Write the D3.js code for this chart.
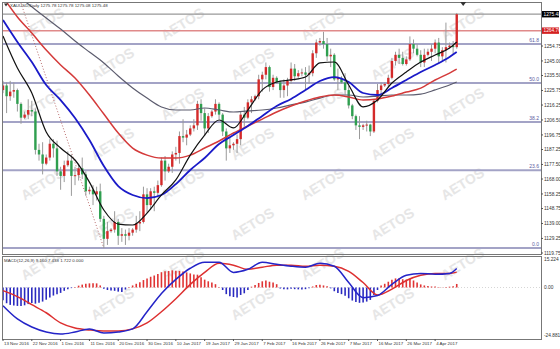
<!DOCTYPE html>
<html>
<head>
<meta charset="utf-8">
<script src="https://cdn.jsdelivr.net/npm/d3@7"></script>
<style>
  body { margin: 0; background: #fff; }
  svg { display: block; font-family: "Liberation Sans", Arial, sans-serif; }
</style>
</head>
<body>
<svg id="chart" width="560" height="349"></svg>
<script>
// XAUUSD daily candles, bar 0 = 13 Nov 2016 ... bar 126 = 11 Apr 2017
var opens = [1226,1229,1222,1225,1226,1217,1208,1210,1213,1212,1187,1184,1178,1182,1191,1188,1173,1170,1177,1180,
  1170,1170.5,1175,1171,1160,1161,1158,1160,1142,1129,1134,1135,1140,1131,1132,1131,1133,1135,1139,1140,
  1158,1151,1160,1159,1164,1180,1173,1176,1184,1185,1196,1195,1197,1201,1203,1217,1211,1201,1209,1212,
  1217,1210,1199,1188,1190,1191,1194,1210,1208,1218,1220,1222,1233,1236,1241,1228,1234,1231,1226,1229,
  1232,1240,1235,1237,1237.5,1236,1237,1250,1257,1258,1256,1248,1249,1233,1234,1231,1226,1216,1209,1203,
  1202,1203,1203.5,1199,1219,1226,1229,1230,1234,1245,1249,1247,1243,1246,1256,1253,1249,1244,1249,1251,
  1253,1257,1248,1252,1254,1255,1254];
var highs = [1232,1231,1232,1231,1227,1218,1212,1220,1219,1214,1191,1192,1184,1194,1194,1193,1176,1180,1186,1184,
  1176,1178,1182,1173,1163,1164,1163,1165,1144,1140,1136,1147,1142,1136,1135,1136,1136,1144,1147,1163,
  1162,1162,1163,1167,1182,1183,1178,1186,1189,1199,1207,1200,1203,1207,1219,1220,1214,1211,1213,1220,
  1218,1211,1201,1195,1192,1197,1212,1215,1220,1222,1223,1236,1238,1244,1242,1236,1235,1232,1233,1234,
  1244,1243,1239,1240,1241,1242,1252,1259,1260,1264,1260,1253,1250,1240,1235,1237,1229,1217,1210,1209,
  1204,1206,1204,1220,1230,1231,1231,1236,1247,1251,1253,1251,1248,1261,1259,1256,1252,1253,1253,1256,
  1259,1260,1254,1270,1257,1258,1276.3];
var lows = [1224,1211,1219,1221,1212,1204,1207,1207,1209,1184,1180,1171,1177,1180,1182,1170,1161,1166,1176,1157,
  1164,1167,1168,1157,1158,1151,1154,1140,1123,1125,1133,1133,1125,1127,1125,1128,1131,1133,1134,1139,
  1146,1148,1147,1156,1163,1167,1172,1172,1180,1178,1192,1190,1196,1199,1200,1206,1196,1198,1208,1210,
  1207,1196,1180,1185,1187,1185,1190,1202,1207,1211,1219,1220,1225,1233,1225,1226,1230,1221,1221,1222,
  1230,1232,1234,1235,1226,1230,1235,1247,1255,1253,1245,1241,1232,1226,1230,1223,1214,1207,1200,1194,
  1200,1199,1196,1198,1218,1223,1228,1228,1233,1242,1243,1242,1242,1245,1250,1248,1241,1241,1248,1245,
  1250,1243,1245,1244,1253,1249,1253];
var closes = [1229,1222,1225,1226,1217,1208,1210,1213,1212,1187,1184,1178,1182,1191,1188,1173,1170,1177,1180,1170,
  1170.5,1175,1171,1160,1161,1158,1160,1142,1129,1134,1135,1140,1131,1132,1131,1133,1135,1139,1140,1158,
  1151,1160,1159,1164,1180,1173,1176,1184,1185,1196,1195,1197,1201,1203,1217,1211,1201,1209,1212,1217,
  1210,1199,1188,1190,1191,1194,1210,1208,1218,1220,1222,1233,1236,1241,1228,1234,1231,1226,1229,1232,
  1240,1235,1237,1237.5,1236,1237,1250,1257,1258,1256,1248,1249,1233,1234,1231,1226,1216,1209,1203,1202,
  1203,1203.5,1199,1219,1226,1229,1230,1234,1245,1249,1247,1243,1246,1256,1253,1249,1244,1249,1251,1253,
  1257,1248,1252,1254,1255,1254,1275.48];

// moving averages at these bars
var maBars = [0,4,8,12,16,20,24,28,32,36,40,44,48,52,56,60,64,68,72,76,80,84,88,92,96,100,104,108,112,116,120,124,126];
var maBlack = [1261.3,1240.4,1224.1,1198.7,1188.2,1180.4,1166.0,1147.8,1138.6,1138.0,1145.8,1157.6,1167.4,1183.6,1196.7,1206.5,1201.3,
  1213.0,1226.1,1231.3,1232.6,1234.5,1243.7,1244.3,1229.3,1215.0,1219.5,1230.6,1237.8,1244.3,1248.9,1253.4,1257.4];
var maBlue = [1271.7,1257.4,1244.3,1229.3,1219.5,1207.8,1193.4,1176.5,1163.4,1157.6,1155.6,1157.6,1164.7,1173.9,1181.7,1190.8,1196.7,
  1202.6,1209.1,1215.6,1220.2,1226.0,1231.9,1234.5,1231.3,1224.1,1222.8,1227.4,1232.6,1237.8,1242.4,1247.6,1250.8];
var maRed = [1286.7,1273.7,1263.2,1252.1,1242.4,1233.9,1222.8,1210.4,1198.0,1188.2,1183.6,1181.7,1181.7,1183.6,1188.2,1192.8,1198.0,
  1202.6,1207.1,1211.7,1215.6,1218.9,1221.5,1222.8,1221.5,1219.5,1220.2,1222.1,1224.7,1227.3,1232.6,1237.1,1239.7];
var maGray = [1294.9,1287.6,1280.3,1273.0,1265.8,1258.0,1250.8,1243.7,1235.2,1227.4,1220.8,1215.0,1213.0,1213.0,1214.3,1213.0,1211.7,
  1212.4,1213.0,1214.3,1216.3,1218.2,1220.8,1222.8,1222.8,1221.5,1222.1,1222.8,1222.8,1223.4,1226.1,1229.3,1231.3];

// MACD(12,26,9)
var macdLine = [-8.8,-15.2,-19.1,-21.5,-22.5,-21.5,-20.0,-22.0,-21.5,-20.0,-11.7,-2.9,3.9,9.3,12.2,12.2,7.3,8.8,12.2,11.2,10.3,9.8,
  11.7,10.3,2.4,-4.9,-3.9,1.5,5.9,6.8,6.4,6.8,9.16];
var signalLine = [-1.5,-4.4,-8.3,-12.2,-17.1,-19.6,-20.5,-21.0,-21.0,-20.0,-17.1,-11.7,-5.4,1.5,7.3,11.7,10.8,8.8,9.8,10.8,10.8,10.3,
  10.8,10.3,7.8,2.4,-3.6,-0.8,3.4,5.9,6.8,6.8,7.438];
var macdHist = [-6.2,-7.6,-8.4,-8.7,-8.9,-8.9,-8.6,-8.0,-7.5,-7.8,-7.4,-6.8,-5.9,-4.8,-3.9,-3.3,-2.6,-1.6,-0.8,-0.3,
  0.3,0.9,1.4,1.8,2.0,2.1,2.0,1.0,-0.6,-1.2,-1.5,-1.6,-2.0,-2.2,-1.0,0.3,1.0,1.8,2.6,3.6,
  4.4,5.2,5.8,6.5,7.4,7.8,8.0,8.3,8.1,8.0,7.7,7.3,6.8,6.3,6.2,5.0,3.8,3.0,2.4,1.6,
  0.3,-1.2,-3.2,-4.2,-4.6,-4.8,-3.6,-2.8,-1.2,0.4,1.2,2.2,3.0,3.4,2.8,2.4,1.6,-0.5,-0.8,-0.9,
  -0.6,-0.8,-0.9,-1.0,-0.8,-0.4,0.5,1.2,1.3,1.0,0.6,-0.4,-1.8,-2.6,-3.2,-4.0,-5.2,-6.3,-7.0,-7.4,
  -7.3,-6.8,-6.0,-3.6,-1.2,1.0,1.8,2.8,3.8,4.4,4.5,4.0,3.8,4.2,3.4,2.4,1.5,1.0,0.7,0.5,
  0.5,0.2,0.1,0.3,0.4,0.6,1.72];

// Fibonacci retracement (low 15 Dec 2016, high before chart start)
var fibLow = 1123.0, fibHigh = 1338.2, fibLowBar = 28, fibHighBar = -3;
var fibLevels = [0, 23.6, 38.2, 50.0, 61.8];
var resistance = 1264.76, lastPrice = 1275.48;

var priceTicks = [1254.75,1245.00,1235.50,1225.75,1216.25,1206.50,1196.75,1187.25,1177.50,1168.00,1158.25,1148.75,1139.00,1129.25,1119.75];
var dateLabels = ["13 Nov 2016","22 Nov 2016","1 Dec 2016","11 Dec 2016","20 Dec 2016","30 Dec 2016","10 Jan 2017","19 Jan 2017",
  "29 Jan 2017","7 Feb 2017","16 Feb 2017","26 Feb 2017","7 Mar 2017","16 Mar 2017","26 Mar 2017","4 Apr 2017"];
var dateLabelBars = [0,8,16,24,32,40,48,56,64,72,80,88,96,104,112,120];
var macdTicks = [15.224, 0.00, -24.881];

var svg = d3.select("#chart");
var left = 2, right = 541, mainTop = 2, mainBottom = 254, subTop = 256, subBottom = 339;

var x = d3.scaleLinear().domain([0, 149.4]).range([3, 541]);
var y = d3.scaleLinear().domain([1119.75, 1254.75]).range([253, 46]);
var ym = d3.scaleLinear().domain([-24.881, 15.224]).range([subBottom, subTop]);

// watermark, kept inside the picture
var wm = svg.append("g").attr("fill", "#e6e6e6").attr("font-size", 14).attr("font-weight", "bold");
for (var r = 0; r < 8; r++) {
  for (var c = 0; c < 5; c++) {
    var wx = 45 + c * 140 + (r % 2) * 70, wy = 28 + r * 40;
    if (wx > 520) continue;
    wm.append("text").attr("transform", "translate(" + wx + "," + wy + ") rotate(-32)")
      .attr("text-anchor", "middle").text("AETOS");
  }
}

svg.append("defs").append("clipPath").attr("id", "mainClip")
  .append("rect").attr("x", left).attr("y", mainTop).attr("width", right - left).attr("height", mainBottom - mainTop);
svg.append("defs").append("clipPath").attr("id", "subClip")
  .append("rect").attr("x", left).attr("y", subTop).attr("width", right - left).attr("height", subBottom - subTop);

var main = svg.append("g").attr("clip-path", "url(#mainClip)");

// fib lines
var fibPrice = function(l) { return fibLow + (fibHigh - fibLow) * l / 100; };
main.selectAll(".fib").data(fibLevels).enter().append("line")
  .attr("x1", left).attr("x2", right)
  .attr("y1", function(d) { return y(fibPrice(d)); }).attr("y2", function(d) { return y(fibPrice(d)); })
  .attr("stroke", "#a3a3c6").attr("stroke-width", 2);
svg.selectAll(".fibLbl").data(fibLevels).enter().append("text")
  .attr("x", right - 2).attr("y", function(d) { return y(fibPrice(d)) - 1.8; })
  .attr("text-anchor", "end").attr("font-size", 5).attr("fill", "#5a5aa0")
  .text(function(d) { return d.toFixed(1); });

// fib trend line (dotted)
main.append("line")
  .attr("x1", x(fibHighBar)).attr("y1", y(fibHigh)).attr("x2", x(fibLowBar)).attr("y2", y(fibLow))
  .attr("stroke", "#b86a6a").attr("stroke-width", 1).attr("stroke-dasharray", "1,2");

// resistance and price lines
main.append("line").attr("x1", left).attr("x2", right).attr("y1", y(resistance)).attr("y2", y(resistance))
  .attr("stroke", "#e08a8a").attr("stroke-width", 1.5);
main.append("line").attr("x1", left).attr("x2", right).attr("y1", y(lastPrice)).attr("y2", y(lastPrice))
  .attr("stroke", "#999").attr("stroke-width", 1.2);

// candles
var bars = d3.range(closes.length);
var bw = 2.4;
main.selectAll(".wick").data(bars).enter().append("line")
  .attr("x1", function(i) { return x(i); }).attr("x2", function(i) { return x(i); })
  .attr("y1", function(i) { return y(highs[i]); }).attr("y2", function(i) { return y(lows[i]); })
  .attr("stroke", "#9a9a9a").attr("stroke-width", 1);
main.selectAll(".body").data(bars).enter().append("rect")
  .attr("x", function(i) { return x(i) - bw / 2; })
  .attr("y", function(i) { return y(Math.max(opens[i], closes[i])); })
  .attr("width", bw)
  .attr("height", function(i) { return Math.max(1, Math.abs(y(opens[i]) - y(closes[i]))); })
  .attr("fill", function(i) { return closes[i] >= opens[i] ? "#d42a2a" : "#2f9f4f"; });

// moving averages
var maLine = function(vals) {
  return d3.line().curve(d3.curveMonotoneX)
    .x(function(d, k) { return x(maBars[k]); }).y(function(d) { return y(d); })(vals);
};
main.append("path").attr("d", maLine(maGray)).attr("fill", "none").attr("stroke", "#5c5c6e").attr("stroke-width", 1.2);
main.append("path").attr("d", maLine(maRed)).attr("fill", "none").attr("stroke", "#d43a3a").attr("stroke-width", 1.5);
main.append("path").attr("d", maLine(maBlue)).attr("fill", "none").attr("stroke", "#1a1ac8").attr("stroke-width", 1.8);
main.append("path").attr("d", maLine(maBlack)).attr("fill", "none").attr("stroke", "#111").attr("stroke-width", 1.2);

// MACD panel
var sub = svg.append("g").attr("clip-path", "url(#subClip)");
sub.append("line").attr("x1", left).attr("x2", right).attr("y1", ym(0)).attr("y2", ym(0))
  .attr("stroke", "#bbb").attr("stroke-width", 0.6).attr("stroke-dasharray", "1,2");
sub.selectAll(".hist").data(bars).enter().append("line")
  .attr("x1", function(i) { return x(i); }).attr("x2", function(i) { return x(i); })
  .attr("y1", ym(0)).attr("y2", function(i) { return ym(macdHist[i]); })
  .attr("stroke", function(i) { return macdHist[i] >= 0 ? "#e03434" : "#2a2ac0"; })
  .attr("stroke-width", 1.6);
var mLine = function(vals) {
  return d3.line().curve(d3.curveMonotoneX)
    .x(function(d, k) { return x(maBars[k]); }).y(function(d) { return ym(d); })(vals);
};
sub.append("path").attr("d", mLine(signalLine)).attr("fill", "none").attr("stroke", "#dd3030").attr("stroke-width", 1.5);
sub.append("path").attr("d", mLine(macdLine)).attr("fill", "none").attr("stroke", "#2424c8").attr("stroke-width", 1.5);

// frames
svg.append("rect").attr("x", left + 0.5).attr("y", mainTop + 0.5).attr("width", right - left).attr("height", mainBottom - mainTop)
  .attr("fill", "none").attr("stroke", "#777").attr("stroke-width", 1);
svg.append("rect").attr("x", left + 0.5).attr("y", subTop + 0.5).attr("width", right - left).attr("height", subBottom - subTop)
  .attr("fill", "none").attr("stroke", "#777").attr("stroke-width", 1);

// right price axis
var yAxis = svg.append("g").attr("font-size", 4.8).attr("fill", "#333");
yAxis.selectAll("line").data(priceTicks).enter().append("line")
  .attr("x1", right).attr("x2", right + 2).attr("y1", function(d) { return y(d); }).attr("y2", function(d) { return y(d); })
  .attr("stroke", "#555");
yAxis.selectAll("text").data(priceTicks).enter().append("text")
  .attr("x", right + 3).attr("y", function(d) { return y(d) + 1.7; }).text(function(d) { return d.toFixed(2); });

var tags = [{v: lastPrice, c: "#000"}, {v: resistance, c: "#d42020"}];
tags.forEach(function(t) {
  svg.append("rect").attr("x", right + 1).attr("y", y(t.v) - 3.2).attr("width", 17).attr("height", 6.4).attr("fill", t.c);
  svg.append("text").attr("x", right + 2.5).attr("y", y(t.v) + 1.7).attr("font-size", 4.8).attr("fill", "#fff").text(t.v.toFixed(2));
});

// MACD axis
svg.selectAll(".mt").data(macdTicks).enter().append("text")
  .attr("x", right + 3)
  .attr("y", function(d, k) { return k === 0 ? ym(d) + 4.5 : (k === 2 ? ym(d) - 2 : ym(d) + 1.7); })
  .attr("font-size", 4.8).attr("fill", "#333")
  .text(function(d) { return d === 0 ? "0.00" : d.toFixed(3); });

// date axis
var xAxis = svg.append("g").attr("font-size", 4.4).attr("fill", "#333");
xAxis.selectAll("line").data(dateLabelBars).enter().append("line")
  .attr("x1", function(d) { return x(d); }).attr("x2", function(d) { return x(d); })
  .attr("y1", subBottom).attr("y2", subBottom + 2).attr("stroke", "#555");
xAxis.selectAll("text").data(dateLabels).enter().append("text")
  .attr("x", function(d, k) { return x(dateLabelBars[k]) + 1; }).attr("y", subBottom + 5.5).text(function(d) { return d; });

// titles
svg.append("path").attr("d", "M4,3.5 L8,3.5 L6,6.5 Z").attr("fill", "#333");
svg.append("text").attr("x", 10).attr("y", 7).attr("font-size", 4.4).attr("fill", "#333")
  .text("XAUUSD,Daily  1275.78 1275.78 1275.08 1275.48");
svg.append("text").attr("x", 4).attr("y", subTop + 5.5).attr("font-size", 4.4).attr("fill", "#333")
  .text("MACD(12,26,9) 9.160 7.438 1.722 0.000");

// chart shift marker
svg.append("path").attr("d", "M" + (x(127.8) - 3) + ",2 L" + (x(127.8) + 3) + ",2 L" + x(127.8) + ",6 Z").attr("fill", "#333");
</script>
</body>
</html>
